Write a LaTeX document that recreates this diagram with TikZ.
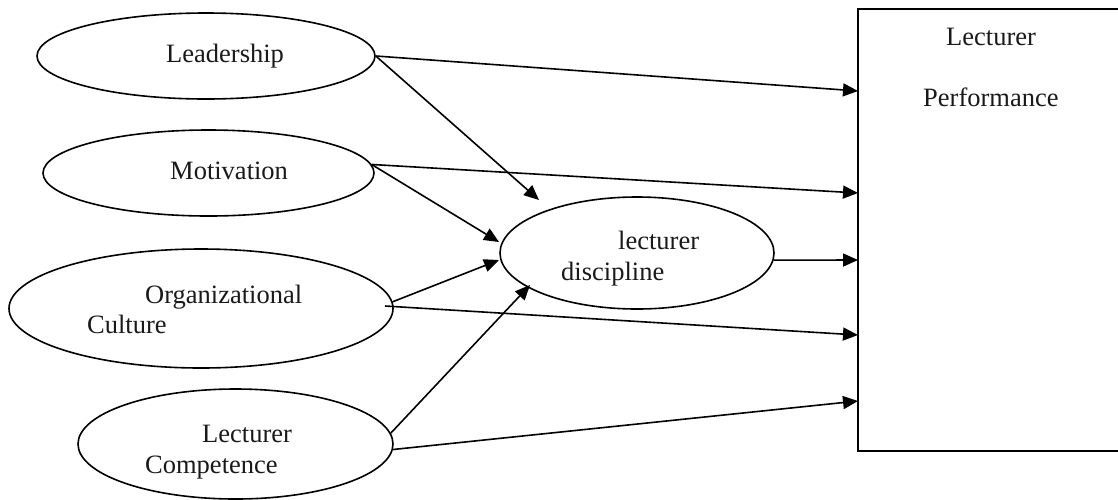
\documentclass[tikz,border=0pt]{standalone}
\usepackage{fontspec}
\setmainfont{Liberation Serif}
\usetikzlibrary{shapes.geometric,arrows.meta}
\begin{document}
\begin{tikzpicture}[x=1pt,y=-1pt,
  oval/.style={ellipse,draw,line width=1.6pt,inner sep=0pt},
  txt/.style={anchor=base west,inner sep=0pt,font=\fontsize{26.5}{30}\selectfont,text=black!90},
  arr/.style={line width=1.6pt,-{Triangle[length=15pt,width=13pt]}}]
\useasboundingbox (0,0) rectangle (1118,499);
\clip (0,0) rectangle (1118,499);
% boxes and ellipses
\node[oval,minimum width=338pt,minimum height=86pt] (lead) at (206,56) {};
\node[oval,minimum width=331pt,minimum height=86pt] (mot) at (208.5,173) {};
\node[oval,minimum width=384pt,minimum height=119pt] (org) at (201,308.5) {};
\node[oval,minimum width=315pt,minimum height=110pt] (comp) at (235.5,444) {};
\node[oval,minimum width=274pt,minimum height=112pt] (disc) at (637,253) {};
\node[draw,line width=1.6pt,inner sep=0pt,minimum width=272pt,minimum height=442pt] (perf) at (994,230) {};
% texts
\node[txt] (tlead) at (166,62) {Leadership};
\node[txt] (tmot) at (170,179) {Motivation};
\node[txt] (torg1) at (145,303) {Organizational};
\node[txt] (torg2) at (87,333) {Culture};
\node[txt] (tcomp1) at (202,442) {Lecturer};
\node[txt] (tcomp2) at (145,473) {Competence};
\node[txt] (tdisc1) at (618,249) {lecturer};
\node[txt] (tdisc2) at (561,280) {discipline};
\node[txt] (tperf1) at (946,45) {Lecturer};
\node[txt] (tperf2) at (923,106) {Performance};
% arrow end points
\coordinate (t1) at (858,91);
\coordinate (t2) at (858,193);
\coordinate (t3) at (858,260);
\coordinate (t4) at (858,335);
\coordinate (t5) at (858,401);
\coordinate (d1) at (539,200);
\coordinate (d2) at (499,242);
\coordinate (d3) at (499,260);
\coordinate (d4) at (530,285);
\coordinate (s4) at (385,306);
% connectors
\draw[arr] (lead.east) -- (t1);
\draw[arr] (lead.east) -- (d1);
\draw[arr] (mot.3) -- (t2);
\draw[arr] (mot.3) -- (d2);
\draw[arr] (org.2) -- (d3);
\draw[arr] (s4) -- (t4);
\draw[arr] (comp.4.5) -- (d4);
\draw[arr] (comp.-2) -- (t5);
\draw[arr] (disc.-3) -- (t3);
\end{tikzpicture}
\end{document}
